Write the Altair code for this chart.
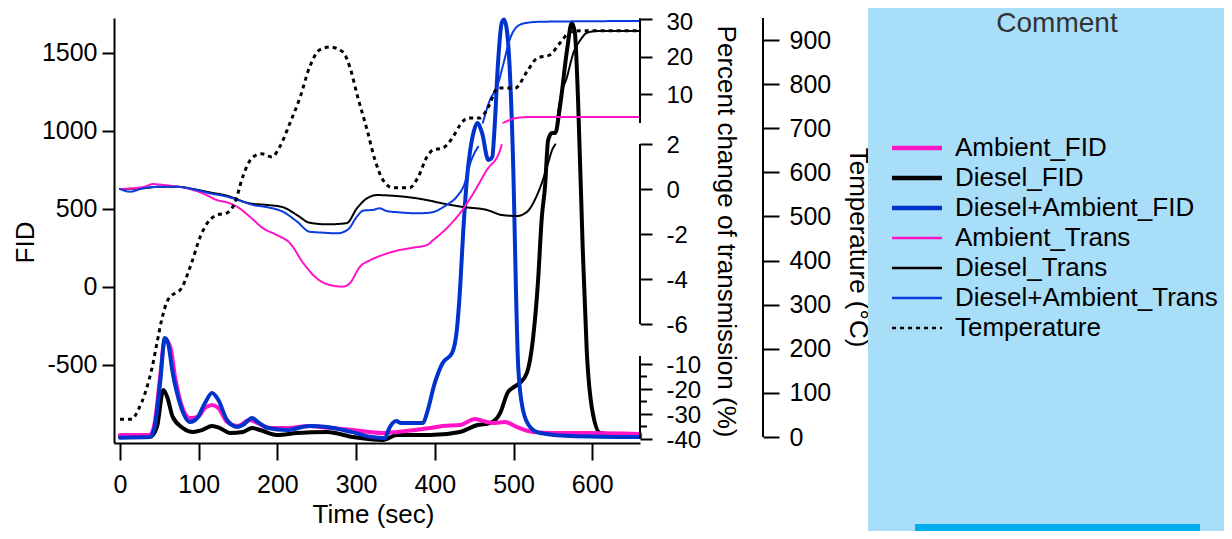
import altair as alt
import pandas as pd

FONT = "Liberation Sans"

# ---------------- values ----------------
FID_SERIES = ["Ambient_FID", "Diesel_FID", "Diesel+Ambient_FID"]
FID_COLORS = ["#ff14c8", "#000000", "#0033cc"]
OTHER_SERIES = ["Ambient_Trans", "Diesel_Trans", "Diesel+Ambient_Trans", "Temperature"]
OTHER_COLORS = ["#ff14c8", "#000000", "#0a3ce0", "#000000"]
OTHER_DASHES = [[1, 0], [1, 0], [1, 0], [4, 4]]

X_TICKS = [0, 100, 200, 300, 400, 500, 600]
FID_TICKS = [-500, 0, 500, 1000, 1500]
TRANS_TICKS = [30, 20, 10, 2, 0, -2, -4, -6, -10, -20, -30, -40]
TRANS_MINOR = [-15, -25, -35]
TRANS_SEG_LO = [-40, -6, 2.25]
TRANS_SEG_HI = [-6.8, 2, 30.3]
TEMP_TICKS = [0, 100, 200, 300, 400, 500, 600, 700, 800, 900]

# FID (left axis)
DIESEL_FID_T = [0, 38, 47, 55, 60, 67, 80, 93, 104, 117, 127, 140, 156, 168, 178, 199, 225, 263,
                296, 334, 352, 394, 432, 454, 470, 483, 493, 499, 508, 517, 525, 531, 536, 540,
                544, 549, 553, 559, 568, 574, 578, 582, 588, 593, 600, 610, 635, 661]
DIESEL_FID_V = [-962, -962, -897, -660, -705, -833, -904, -929, -917, -891, -904, -936, -929, -904,
                -917, -949, -936, -929, -962, -981, -949, -949, -929, -885, -872, -808, -673, -647,
                -615, -551, -321, 26, 449, 641, 942, 987, 987, 1154, 1519, 1692, 1628, 1199, 237,
                -404, -788, -936, -949, -949]

AMB_FID_T = [0, 38, 44, 51, 57, 64, 70, 79, 89, 99, 108, 117, 125, 136, 149, 165, 175, 191, 212,
             241, 254, 296, 334, 352, 394, 410, 432, 451, 466, 474, 489, 504, 525, 550, 593, 661]
AMB_FID_V = [-949, -949, -872, -577, -335, -385, -577, -769, -840, -833, -776, -756, -776, -865,
             -891, -853, -872, -904, -904, -891, -897, -917, -936, -929, -904, -891, -885, -846,
             -865, -872, -865, -897, -929, -936, -936, -942]

DA_FID_T = [0, 38, 44, 51, 57, 61, 67, 76, 89, 98, 108, 117, 125, 136, 149, 156, 168, 175, 188,
            212, 241, 263, 294, 320, 337, 341, 351, 357, 385, 390, 400, 410, 422, 428, 432, 436,
            441, 445, 449, 454, 460, 468, 473, 476, 480, 485, 488, 492, 496, 500, 503, 506, 512,
            521, 534, 572, 661]
DA_FID_V = [-966, -962, -897, -615, -327, -359, -551, -744, -865, -840, -744, -680, -724, -853,
            -897, -885, -840, -865, -904, -917, -891, -897, -929, -962, -968, -917, -859, -872,
            -872, -808, -615, -487, -423, -276, -19, 346, 705, 878, 987, 1051, 987, 814, 833,
            1026, 1410, 1692, 1715, 1628, 1308, 700, 0, -513, -788, -897, -936, -955, -962]

# Percent change of transmission (broken right axis); *_TOP parts sit on the upper segment
AMB_TR_T = [0, 29, 42, 55, 85, 105, 123, 140, 152, 165, 182, 199, 216, 233, 250, 267, 283, 292,
            305, 318, 334, 352, 372, 390, 398, 415, 432, 449, 466, 483, 485]
AMB_TR_V = [0, 0.08, 0.22, 0.18, 0.03, -0.19, -0.49, -0.64, -0.86, -1.23, -1.75, -2.04, -2.41,
            -3.30, -3.97, -4.27, -4.34, -4.19, -3.45, -3.16, -2.93, -2.74, -2.61, -2.49, -2.27,
            -1.75, -1.08, -0.19, 0.84, 1.73, 1.96]
AMB_TR_TOP_T = [487, 504, 521, 661]
AMB_TR_TOP_V = [2.3, 3.6, 3.85, 3.85]

DIE_TR_T = [0, 29, 51, 72, 93, 114, 136, 165, 187, 207, 225, 241, 263, 288, 301, 314, 327, 347,
            368, 394, 407, 436, 466, 486, 504, 517, 527, 536, 544, 549, 553]
DIE_TR_V = [0, 0.03, 0.10, 0.10, 0, -0.15, -0.30, -0.64, -0.71, -0.81, -1.16, -1.50, -1.57,
            -1.52, -0.86, -0.41, -0.27, -0.30, -0.37, -0.52, -0.62, -0.80, -0.93, -1.16, -1.20,
            -1.02, -0.49, 0.27, 1.16, 1.73, 1.98]
DIE_TR_TOP_T = [555, 559, 568, 576, 585, 593, 606, 661]
DIE_TR_TOP_V = [2.3, 8.4, 14.6, 21.0, 24.5, 26.4, 26.9, 26.9]

DA_TR_T = [0, 13, 29, 51, 72, 93, 114, 136, 156, 169, 187, 207, 225, 241, 258, 276, 290, 301,
           309, 321, 330, 339, 356, 377, 394, 415, 428, 438, 445, 455]
DA_TR_V = [0, -0.12, 0.03, 0.10, 0.10, -0.01, -0.19, -0.34, -0.56, -0.71, -0.81, -1.01, -1.45,
           -1.90, -1.94, -1.97, -1.79, -1.23, -0.96, -0.93, -0.86, -0.98, -1.04, -1.08, -1.05,
           -0.71, -0.34, 0.25, 1.14, 1.88]
DA_TR_TOP_T = [461, 470, 479, 487, 495, 504, 514, 535, 661]
DA_TR_TOP_V = [2.3, 8.4, 11.9, 18.0, 24.5, 28.0, 29.0, 29.4, 29.6]

# Temperature (second right axis)
TEMP_T = [0, 15, 23, 32, 41, 47, 53, 61, 79, 91, 102, 114, 123, 136, 146, 156, 168, 180, 193,
          203, 216, 229, 241, 254, 267, 283, 292, 302, 314, 324, 334, 347, 368, 379, 390, 398,
          410, 423, 432, 442, 457, 468, 480, 502, 517, 530, 546, 559, 572, 588, 661]
TEMP_V = [40, 40, 61, 100, 159, 213, 266, 311, 340, 395, 454, 492, 503, 508, 531, 590, 633, 642,
          635, 658, 712, 771, 839, 878, 884, 873, 839, 771, 696, 628, 583, 565, 565, 590, 635,
          651, 655, 680, 707, 723, 723, 748, 791, 791, 828, 859, 866, 893, 918, 921, 921]

# ---------------- tables ----------------
def rows(name, ts, vs, seg=0):
    return [{"time": t, "v": v, "series": name, "seg": seg} for t, v in zip(ts, vs)]

fid_df = pd.DataFrame(rows("Diesel_FID", DIESEL_FID_T, DIESEL_FID_V)
                      + rows("Ambient_FID", AMB_FID_T, AMB_FID_V)
                      + rows("Diesel+Ambient_FID", DA_FID_T, DA_FID_V))
trans_df = pd.DataFrame(rows("Diesel_Trans", DIE_TR_T, DIE_TR_V, 0)
                        + rows("Diesel_Trans", DIE_TR_TOP_T, DIE_TR_TOP_V, 1)
                        + rows("Ambient_Trans", AMB_TR_T, AMB_TR_V, 0)
                        + rows("Ambient_Trans", AMB_TR_TOP_T, AMB_TR_TOP_V, 1)
                        + rows("Diesel+Ambient_Trans", DA_TR_T, DA_TR_V, 0)
                        + rows("Diesel+Ambient_Trans", DA_TR_TOP_T, DA_TR_TOP_V, 1))
temp_df = pd.DataFrame(rows("Temperature", TEMP_T, TEMP_V))

X_MIN, X_MAX = -7.6, 660.7
X_PER_PX = (X_MAX - X_MIN) / 526.0
trans_seg_df = pd.DataFrame({"lo": TRANS_SEG_LO, "hi": TRANS_SEG_HI, "time": [X_MAX] * 3})
trans_minor_df = pd.DataFrame({"v": TRANS_MINOR, "time": [X_MAX] * 3,
                               "xb": [X_MAX + 7 * X_PER_PX] * 3})
temp_axis_df = pd.DataFrame({"lo": [0], "hi": [949.9], "time": [X_MIN + 649 * X_PER_PX]})

# ---------------- legends / shared encodings ----------------
def legend(y, width):
    return alt.Legend(
        title=None, orient="none", legendX=770, legendY=y, padding=0,
        symbolType="M-1,0L9,0", symbolSize=100, symbolStrokeWidth=width, labelOffset=45,
        labelFont=FONT, labelFontSize=26, labelColor="black", labelLimit=500, rowPadding=4,
    )

fid_color = alt.Color("series:N", scale=alt.Scale(domain=FID_SERIES, range=FID_COLORS),
                      legend=legend(117, 4.5))
LEG_B = legend(207, 2.5)
other_stroke = alt.Stroke("series:N", scale=alt.Scale(domain=OTHER_SERIES, range=OTHER_COLORS),
                          legend=LEG_B)
other_dash = alt.StrokeDash("series:N", scale=alt.Scale(domain=OTHER_SERIES, range=OTHER_DASHES),
                            legend=LEG_B)

# the same x axis definition is given to every layer so the merged axis stays visible
xscale = alt.Scale(domain=[X_MIN, X_MAX], nice=False, zero=False)
x_axis = alt.Axis(orient="bottom", values=X_TICKS, tickSize=17, labelPadding=12,
                  title="Time (sec)", titleX=259, titleY=71, titleBaseline="middle",
                  titleAlign="center")
x_enc = alt.X("time:Q", scale=xscale, axis=x_axis)

LABEL_EXPR = "toString(datum.value)"


def trans_scale():
    return alt.Scale(domain=[-41.6, -6.8, -6, 2, 2.25, 30.4],
                     range=[425, 338, 306, 126, 105, 0], nice=False, zero=False)


def temp_scale():
    return alt.Scale(domain=[-13.6, 949.9], nice=False, zero=False)


# FID lines (left axis)
fid_lines = alt.Chart(fid_df).mark_line(interpolate="monotone", strokeCap="round",
                                        strokeJoin="round", strokeWidth=4).encode(
    x=x_enc,
    y=alt.Y("v:Q", scale=alt.Scale(domain=[-1000, 1724], nice=False, zero=False),
            axis=alt.Axis(orient="left", values=FID_TICKS, tickSize=12, labelPadding=5,
                          labelExpr=LABEL_EXPR, title="FID", titleAngle=270, titleX=-89,
                          titleY=224, titleBaseline="middle", titleAlign="center")),
    color=fid_color, detail="seg:N",
)

# Transmission lines (broken right axis via a piecewise scale)
trans_lines = alt.Chart(trans_df).mark_line(interpolate="monotone", strokeCap="round",
                                            strokeWidth=2).encode(
    x=x_enc,
    y=alt.Y("v:Q", scale=trans_scale(),
            axis=alt.Axis(orient="right", values=TRANS_TICKS, tickSize=12, labelPadding=14,
                          domain=False, labelExpr=LABEL_EXPR, labelFontSize=24,
                          labelOffset={"condition": {"test": "datum.value == 30", "value": 3},
                                       "value": 1},
                          title="Percent change of transmission (%)", titleAngle=90,
                          titleX=85, titleY=213, titleBaseline="middle", titleAlign="center")),
    stroke=other_stroke, strokeDash=other_dash, detail="seg:N",
)
trans_axis_lines = alt.Chart(trans_seg_df).mark_rule(color="black", strokeWidth=2).encode(
    x=x_enc,
    y=alt.Y("lo:Q", scale=trans_scale(), axis=None),
    y2="hi:Q",
)
trans_minor_ticks = alt.Chart(trans_minor_df).mark_rule(color="black", strokeWidth=2).encode(
    x=x_enc,
    x2="xb:Q",
    y=alt.Y("v:Q", scale=trans_scale(), axis=None),
)

# Temperature line (second right axis)
temp_line = alt.Chart(temp_df).mark_line(interpolate="monotone", strokeWidth=3).encode(
    x=x_enc,
    y=alt.Y("v:Q", scale=temp_scale(),
            axis=alt.Axis(orient="right", offset=123, values=TEMP_TICKS, tickSize=16,
                          labelPadding=10, domain=False, labelExpr=LABEL_EXPR,
                          title="Temperature (°C)", titleAngle=90, titleX=94, titleY=229,
                          titleBaseline="middle", titleAlign="center")),
    stroke=other_stroke, strokeDash=other_dash,
)
temp_axis_line = alt.Chart(temp_axis_df).mark_rule(color="black", strokeWidth=2).encode(
    x=x_enc,
    y=alt.Y("lo:Q", scale=temp_scale(), axis=None),
    y2="hi:Q",
)

# Comment panel (decoration on the right)
one = pd.DataFrame({"k": [0]})
panel = alt.Chart(one).mark_rect(color="#a9def9").encode(
    x=alt.value(754), x2=alt.value(1110), y=alt.value(-10), y2=alt.value(513))
panel_bar = alt.Chart(one).mark_rect(color="#00aeef").encode(
    x=alt.value(801), x2=alt.value(1086), y=alt.value(506), y2=alt.value(513))
panel_title = alt.Chart(one).mark_text(font=FONT, fontSize=28, color="#333333",
                                       baseline="middle", align="center").encode(
    x=alt.value(943), y=alt.value(6), text=alt.value("Comment"))

chart = alt.layer(
    fid_lines, trans_lines, temp_line,
    trans_axis_lines, trans_minor_ticks, temp_axis_line,
    panel, panel_bar, panel_title,
).resolve_scale(
    y="independent"
).properties(
    width=526, height=425,
    padding={"left": 106, "top": 10, "right": 584, "bottom": 88},
    autosize=alt.AutoSizeParams(type="none"),
    background="white",
).configure_view(stroke=None).configure_axis(
    grid=False, domainColor="black", domainWidth=2, tickColor="black", tickWidth=2,
    labelColor="black", titleColor="black", labelFont=FONT, titleFont=FONT,
    labelFontSize=25, titleFontSize=26, titleFontWeight="normal",
)

chart.save("out.html", embed_options={"renderer": "svg", "actions": False})
